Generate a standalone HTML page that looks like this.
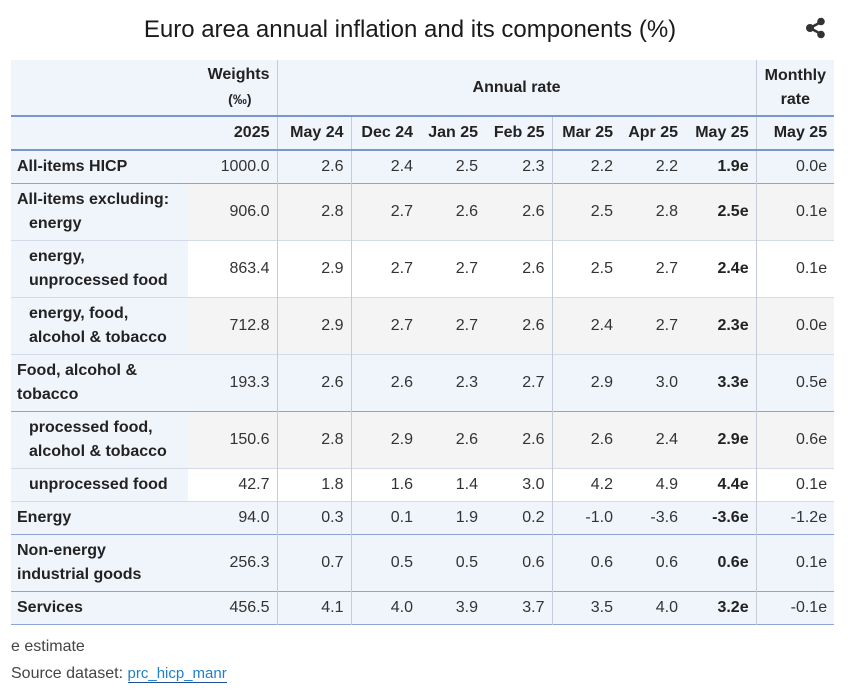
<!DOCTYPE html>
<html><head><meta charset="utf-8"><style>
body{margin:0;width:856px;height:695px;background:#fff;font-family:"Liberation Sans",Arial,sans-serif;color:#333;position:relative;overflow:hidden}
.title{position:absolute;top:16px;left:0;width:820px;text-align:center;font-size:24px;color:#1a1a1a}
table{position:absolute;left:11px;top:60px;border-collapse:collapse;table-layout:fixed;width:823px;font-size:16px}
td,th{padding:0 7px 0 0;text-align:right;white-space:nowrap;line-height:24px}
th{font-weight:bold;color:#222;background:#f0f4fb}
td.l{text-align:left;padding-left:6px;font-weight:bold;color:#222;background:#f0f4fb;white-space:normal;line-height:24px}
td.s{padding-left:18px}
tr.b td{background:#f0f4fb}
tr.g td{background:#f4f4f4}
tr.w td{background:#fff}
tr td.l{background:#f0f4fb}
tr{border-bottom:1px solid #d5dbe6}
tr.tb{border-bottom:2px solid #7b96cc}
tr.bb{border-bottom:1px solid #8ea4d2}
.v{border-right:1px solid #c5cbd8}
td.m{font-weight:bold;color:#222}
.r1{height:56px}.r2{height:34px}.h1{height:33px}.h2{height:57px}
.foot{position:absolute;left:11px;font-size:16px;color:#444}
a{color:#1f7fc9;text-decoration:none;border-bottom:1px solid #1f4f99;font-size:15px}
</style></head><body>
<div class="title">Euro area annual inflation and its components (%)</div>
<svg style="position:absolute;left:805px;top:17px" width="22" height="22" viewBox="0 0 22 22"><line x1="5" y1="11" x2="16" y2="5" stroke="#333" stroke-width="2.5"/><line x1="5" y1="11" x2="16" y2="17" stroke="#333" stroke-width="2.5"/><circle cx="5" cy="11" r="4" fill="#333"/><circle cx="16" cy="4.5" r="3.8" fill="#333"/><circle cx="16" cy="17.5" r="3.8" fill="#333"/></svg>
<table>
<colgroup><col style="width:177px"><col style="width:89px"><col style="width:74px"><col style="width:69px"><col style="width:65px"><col style="width:67px"><col style="width:68px"><col style="width:65px"><col style="width:71px"><col style="width:78px"></colgroup>
<tr class="tb r1"><th></th><th class="v">Weights<br><span style="font-size:14px;padding-right:18px">(‰)</span></th><th colspan="7" class="v" style="text-align:center;padding:0">Annual rate</th><th style="text-align:center;padding:0">Monthly<br>rate</th></tr>
<tr class="tb r2"><th></th><th class="v">2025</th><th class="v">May 24</th><th>Dec 24</th><th>Jan 25</th><th class="v">Feb 25</th><th>Mar 25</th><th>Apr 25</th><th class="v">May 25</th><th>May 25</th></tr>
<tr class="b bb h1"><td class="l">All-items HICP</td><td class="v">1000.0</td><td class="v">2.6</td><td>2.4</td><td>2.5</td><td class="v">2.3</td><td>2.2</td><td>2.2</td><td class="v m">1.9e</td><td>0.0e</td></tr>
<tr class="g h2"><td class="l">All-items excluding:<br><span style="padding-left:12px">energy</span></td><td class="v">906.0</td><td class="v">2.8</td><td>2.7</td><td>2.6</td><td class="v">2.6</td><td>2.5</td><td>2.8</td><td class="v m">2.5e</td><td>0.1e</td></tr>
<tr class="w h2"><td class="l s">energy,<br>unprocessed food</td><td class="v">863.4</td><td class="v">2.9</td><td>2.7</td><td>2.7</td><td class="v">2.6</td><td>2.5</td><td>2.7</td><td class="v m">2.4e</td><td>0.1e</td></tr>
<tr class="g h2"><td class="l s">energy, food,<br>alcohol &amp; tobacco</td><td class="v">712.8</td><td class="v">2.9</td><td>2.7</td><td>2.7</td><td class="v">2.6</td><td>2.4</td><td>2.7</td><td class="v m">2.3e</td><td>0.0e</td></tr>
<tr class="b bb h2"><td class="l">Food, alcohol &amp;<br>tobacco</td><td class="v">193.3</td><td class="v">2.6</td><td>2.6</td><td>2.3</td><td class="v">2.7</td><td>2.9</td><td>3.0</td><td class="v m">3.3e</td><td>0.5e</td></tr>
<tr class="g h2"><td class="l s">processed food,<br>alcohol &amp; tobacco</td><td class="v">150.6</td><td class="v">2.8</td><td>2.9</td><td>2.6</td><td class="v">2.6</td><td>2.6</td><td>2.4</td><td class="v m">2.9e</td><td>0.6e</td></tr>
<tr class="w h1"><td class="l s">unprocessed food</td><td class="v">42.7</td><td class="v">1.8</td><td>1.6</td><td>1.4</td><td class="v">3.0</td><td>4.2</td><td>4.9</td><td class="v m">4.4e</td><td>0.1e</td></tr>
<tr class="b bb h1"><td class="l">Energy</td><td class="v">94.0</td><td class="v">0.3</td><td>0.1</td><td>1.9</td><td class="v">0.2</td><td>-1.0</td><td>-3.6</td><td class="v m">-3.6e</td><td>-1.2e</td></tr>
<tr class="b bb h2"><td class="l">Non-energy<br>industrial goods</td><td class="v">256.3</td><td class="v">0.7</td><td>0.5</td><td>0.5</td><td class="v">0.6</td><td>0.6</td><td>0.6</td><td class="v m">0.6e</td><td>0.1e</td></tr>
<tr class="b bb h1"><td class="l">Services</td><td class="v">456.5</td><td class="v">4.1</td><td>4.0</td><td>3.9</td><td class="v">3.7</td><td>3.5</td><td>4.0</td><td class="v m">3.2e</td><td>-0.1e</td></tr>
</table>
<div class="foot" style="top:638px">e estimate</div>
<div class="foot" style="top:665px">Source dataset: <a>prc_hicp_manr</a></div>
</body></html>
